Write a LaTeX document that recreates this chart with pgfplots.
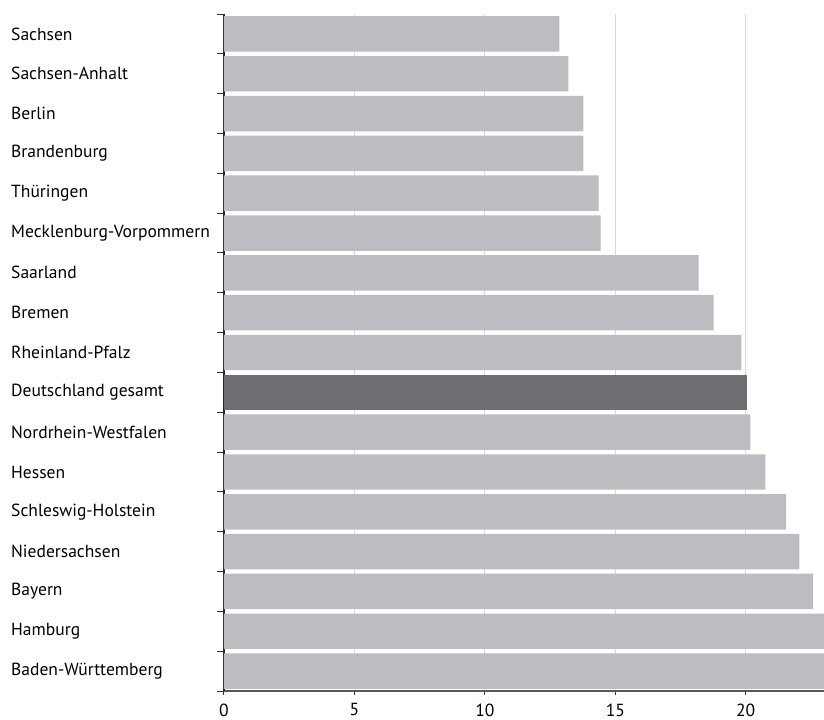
\documentclass[border=0pt]{standalone}
\usepackage{pgfplots}
\pgfplotsset{compat=1.18}
\usepackage{fontspec}
\setmainfont{PT Sans}
\definecolor{barlight}{HTML}{BCBDC1}
\definecolor{bardark}{HTML}{6D6E72}
\definecolor{gridc}{HTML}{DADADA}
\begin{document}
\begin{tikzpicture}
\useasboundingbox (-224bp,-29bp) rectangle (600bp,691bp);
\begin{axis}[
  at={(0,0)}, anchor=south west,
  scale only axis, width=600bp, height=677bp,
  xmin=0, xmax=23, ymin=-0.5, ymax=16.5, y dir=reverse,
  axis x line*=bottom, axis y line*=left,
  x axis line style={black!65, line width=1.5bp},
  y axis line style={black!85, line width=1.2bp},
  xtick={0,5,10,15,20},
  xmajorgrids, grid style={gridc, line width=1.2bp},
  ytick={0,...,16},
  yticklabels={Sachsen,Sachsen-Anhalt,Berlin,Brandenburg,Thüringen,Mecklenburg-Vorpommern,Saarland,Bremen,Rheinland-Pfalz,Deutschland gesamt,Nordrhein-Westfalen,Hessen,Schleswig-Holstein,Niedersachsen,Bayern,Hamburg,Baden-Württemberg},
  minor ytick={-0.5,0.5,...,16.5},
  major y tick style={draw=none},
  minor y tick style={black!80, line width=1bp},
  major x tick style={black!80, line width=1bp},
  minor tick length=7bp, major tick length=4bp,
  tick align=outside,
  yticklabel style={anchor=west, inner sep=0pt, xshift=-209bp, font=\fontsize{17.6}{20}\selectfont},
  xticklabel style={font=\fontsize{17.6}{20}\selectfont, yshift=-5bp, /pgf/number format/assume math mode=true},
  xbar, bar width=0.89, bar shift=0pt,
]
\addplot[fill=barlight, draw=none] coordinates {
(12.86,0) (13.2,1) (13.78,2) (13.78,3) (14.36,4) (14.44,5) (18.19,6) (18.77,7) (19.83,8)
(20.18,10) (20.75,11) (21.55,12) (22.06,13) (22.58,14) (23.5,15) (24,16)};
\addplot[fill=bardark, draw=none] coordinates {(20.03,9)};
\end{axis}
\end{tikzpicture}
\end{document}
